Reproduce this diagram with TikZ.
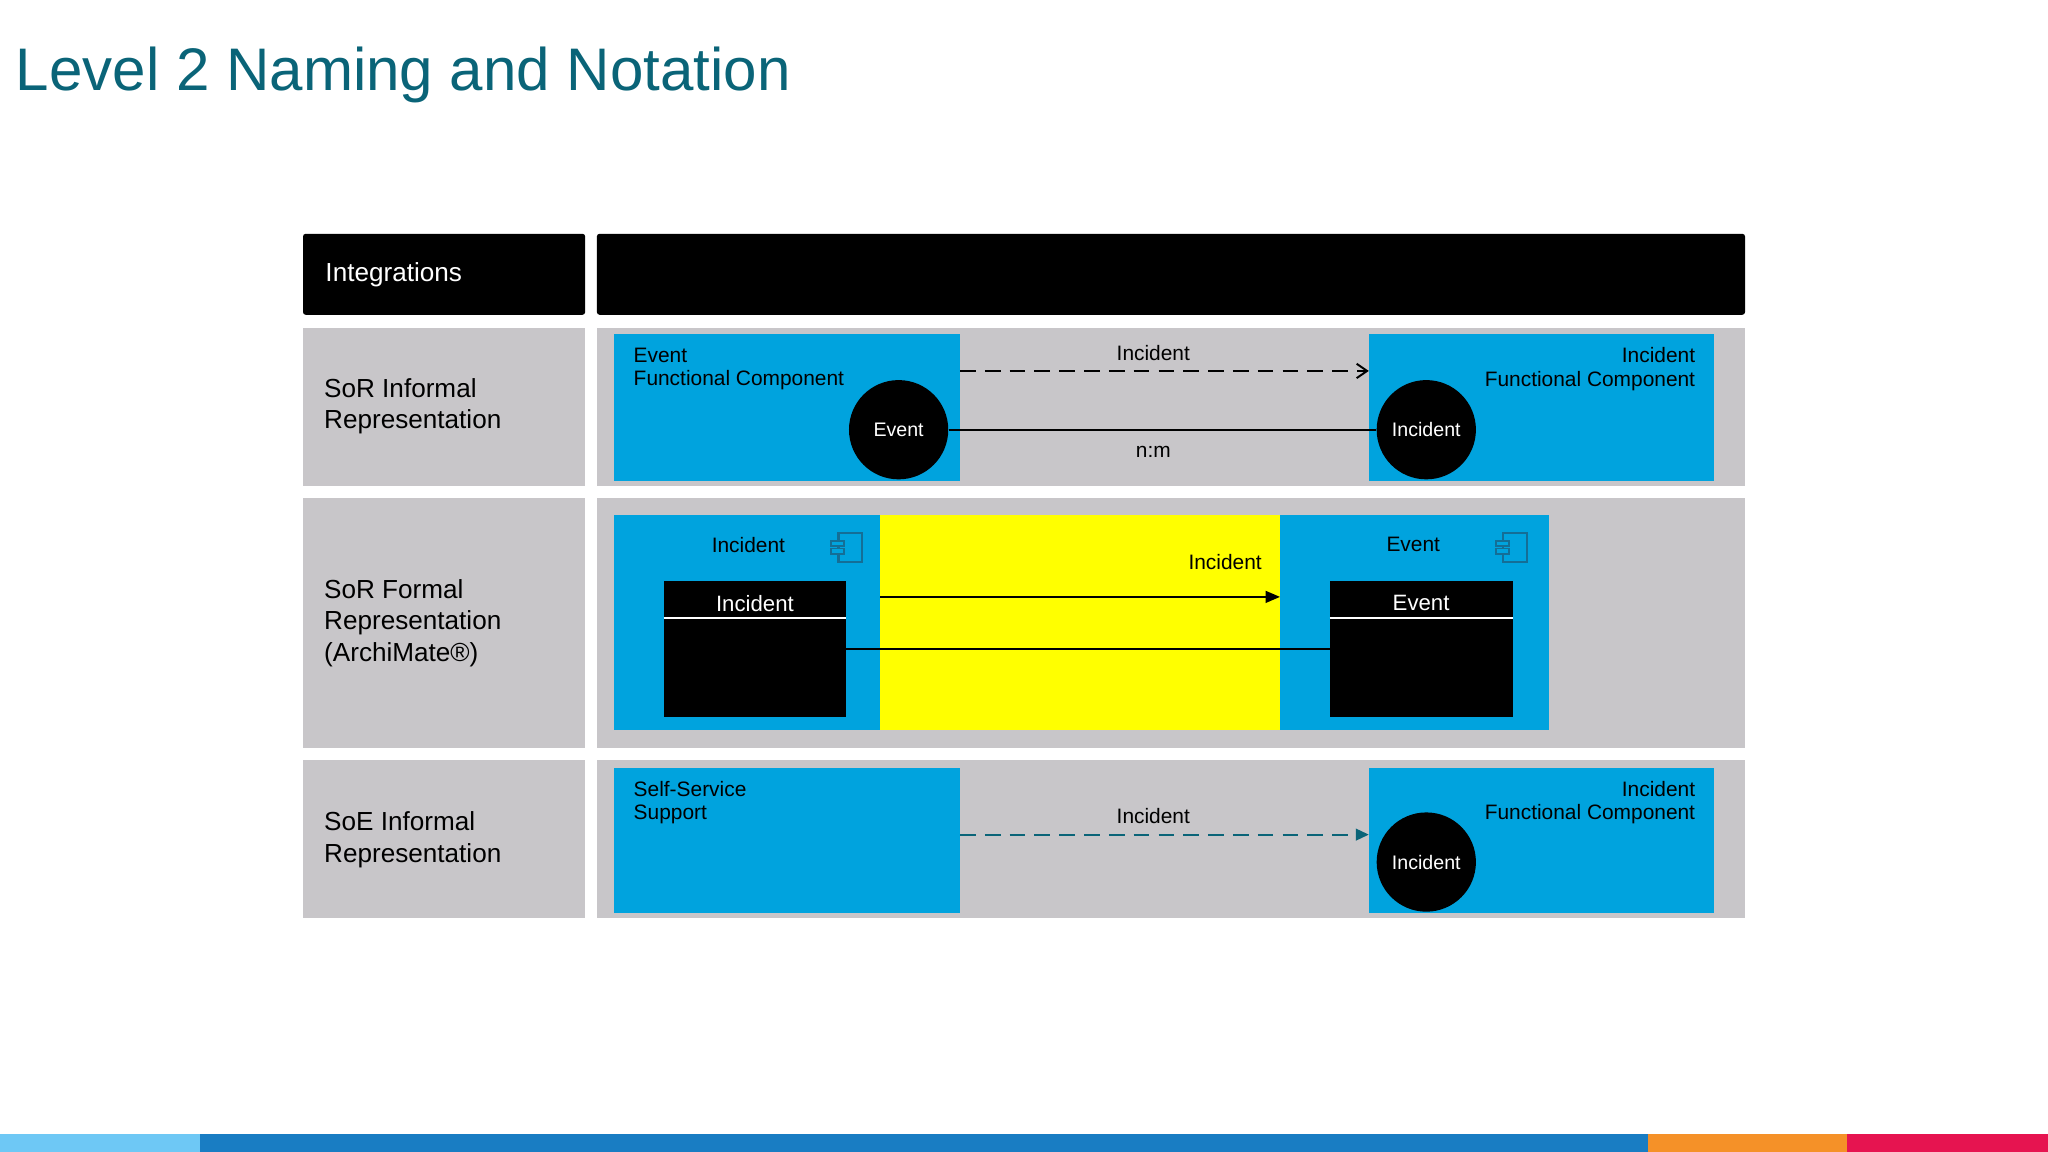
\documentclass[tikz,border=0pt]{standalone}
\usepackage{fontspec}
\setmainfont{Liberation Sans}
\usetikzlibrary{arrows.meta}
\definecolor{teal}{RGB}{10,100,120}
\definecolor{gbox}{RGB}{200,198,201}
\definecolor{bbox}{RGB}{0,163,222}
\definecolor{yel}{RGB}{255,255,0}
\definecolor{icon}{RGB}{20,110,150}
\definecolor{b1}{RGB}{110,200,245}
\definecolor{b2}{RGB}{25,125,195}
\definecolor{b3}{RGB}{245,145,40}
\definecolor{b4}{RGB}{230,20,80}
\begin{document}
\begin{tikzpicture}[x=1pt,y=-1pt,
  gray/.style={fill=gbox,draw=none},
  blue/.style={fill=bbox,draw=none},
  t/.style={font=\fontsize{16}{18}\selectfont,inner sep=0pt},
  rl/.style={font=\fontsize{20}{24}\selectfont,align=left,anchor=west,inner sep=0pt},
  circ/.style={circle,fill=black,minimum size=76pt,inner sep=0pt,text=white,font=\fontsize{15}{18}\selectfont},
  comp/.style={draw=icon,line width=1.6pt,fill=bbox,minimum width=18pt,minimum height=22pt,inner sep=0pt}
]
\useasboundingbox (0,0) rectangle (1568,882);
\fill[white] (0,0) rectangle (1568,882);
\node[anchor=base west,text=teal,font=\fontsize{46}{50}\selectfont,inner sep=0pt] (title) at (12,69) {Level 2 Naming and Notation};
% header
\fill[black,rounded corners=2pt] (232,179) rectangle (448,241);
\fill[black,rounded corners=2pt] (457,179) rectangle (1336,241);
\node[rl,text=white] (hdr) at (249,210) {Integrations};
% rows
\fill[gray] (232,251) rectangle (448,372);
\fill[gray] (457,251) rectangle (1336,372);
\fill[gray] (232,381) rectangle (448,573);
\fill[gray] (457,381) rectangle (1336,573);
\fill[gray] (232,582) rectangle (448,703);
\fill[gray] (457,582) rectangle (1336,703);
\node[rl] (r1) at (248,311) {SoR Informal\\Representation};
\node[rl] (r2) at (248,477) {SoR Formal\\Representation\\(ArchiMate®)};
\node[rl] (r3) at (248,643) {SoE Informal\\Representation};
% row 1
\fill[blue] (470,256) rectangle (735,368);
\fill[blue] (1048,256) rectangle (1312,368);
\node[t,anchor=north west,align=left] (l1) at (485,266) {Event\\Functional Component};
\node[t,anchor=north east,align=right] (r1t) at (1298,266) {Incident\\Functional Component};
\node[circ] (ev) at (688,329) {Event};
\node[circ] (inc) at (1092,329) {Incident};
\coordinate (a1s) at (735,284); \coordinate (a1e) at (1048,284);
\draw[line width=1.5pt,dash pattern=on 12pt off 7pt,-{Straight Barb[length=8pt,width=11pt]}] (a1s) -- (a1e);
\node[t] (lab1) at (883,270) {Incident};
\draw[line width=1.5pt] (ev) -- (inc);
\node[t] (nm) at (883,346) {n:m};
% row 2
\fill[blue] (470,394) rectangle (674,559);
\fill[yel] (674,394) rectangle (980,559);
\fill[blue] (980,394) rectangle (1186,559);
\node[t] (c1l) at (573,417) {Incident};
\node[t] (c2l) at (1082,417) {Event};
\node[comp] (ic1) at (651,419) {};
\node[comp] (ic2) at (1160,419) {};
\foreach \n in {ic1,ic2}{
  \draw[icon,line width=1.4pt,fill=bbox] ([xshift=-5pt,yshift=-5pt]\n.west) rectangle ([xshift=5pt,yshift=-1pt]\n.west);
  \draw[icon,line width=1.4pt,fill=bbox] ([xshift=-5pt,yshift=1pt]\n.west) rectangle ([xshift=5pt,yshift=5pt]\n.west);
}
\fill[black] (508,445) rectangle (648,549);
\fill[black] (1018,445) rectangle (1158,549);
\draw[white,line width=1.5pt] (508,473) -- (648,473);
\draw[white,line width=1.5pt] (1018,473) -- (1158,473);
\node[t,text=white,font=\fontsize{17}{20}\selectfont] (bx1) at (578,462) {Incident};
\node[t,text=white,font=\fontsize{17}{20}\selectfont] (bx2) at (1088,462) {Event};
\coordinate (a2s) at (674,457); \coordinate (a2e) at (980,457);
\draw[line width=1.5pt,-{Triangle[length=11pt,width=9pt]}] (a2s) -- (a2e);
\node[t] (lab2) at (938,430) {Incident};
\coordinate (l2s) at (648,497); \coordinate (l2e) at (1018,497);
\draw[line width=1.5pt] (l2s) -- (l2e);
% row 3
\fill[blue] (470,588) rectangle (735,699);
\fill[blue] (1048,588) rectangle (1312,699);
\node[t,anchor=north west,align=left] (l3) at (485,598) {Self-Service\\Support};
\node[t,anchor=north east,align=right] (r3t) at (1298,598) {Incident\\Functional Component};
\node[circ] (inc3) at (1092,660) {Incident};
\coordinate (a3s) at (735,639); \coordinate (a3e) at (1048,639);
\draw[teal,line width=1.5pt,dash pattern=on 12pt off 7pt,-{Triangle[length=10pt,width=9pt]}] (a3s) -- (a3e);
\node[t] (lab3) at (883,625) {Incident};
% bottom bar
\fill[b1] (0,868) rectangle (153,882);
\fill[b2] (153,868) rectangle (1262,882);
\fill[b3] (1262,868) rectangle (1414,882);
\fill[b4] (1414,868) rectangle (1568,882);
\end{tikzpicture}
\end{document}
